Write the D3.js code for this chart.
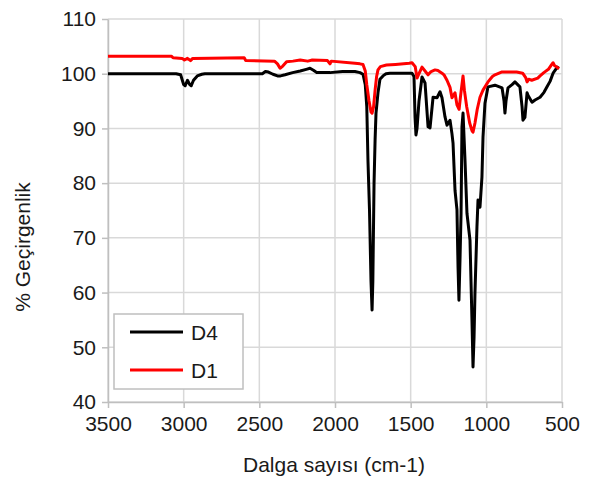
<!DOCTYPE html>
<html>
<head>
<meta charset="utf-8">
<script src="https://cdn.jsdelivr.net/npm/d3@7"></script>
<style>
  body { margin: 0; background: #fff; }
  text { font-family: "Liberation Sans", Arial, sans-serif; }
</style>
</head>
<body>
<div id="vis"></div>
<script>
// Chart size and plot box
const FRAME_WIDTH = 592;
const FRAME_HEIGHT = 482;
const MARGINS = {left: 108, right: 30, top: 19, bottom: 80};
const VIS_WIDTH = FRAME_WIDTH - MARGINS.left - MARGINS.right;
const VIS_HEIGHT = FRAME_HEIGHT - MARGINS.top - MARGINS.bottom;

// Tick values
const X_TICKS = [3500, 3000, 2500, 2000, 1500, 1000, 500];
const Y_TICKS = [40, 50, 60, 70, 80, 90, 100, 110];

// Series names
const SERIES = ["D4", "D1"];
const COLORS = ["#000000", "#ff0000"];

// D4 spectrum: wavenumber (cm-1) and % transmittance
const D4_WN = [3500, 3050, 3020, 3000, 2990, 2975, 2960, 2950, 2935, 2910, 2880, 2860,
  2480, 2460, 2440, 2410, 2380, 2360, 2330, 2280, 2230, 2190, 2165, 2140, 2120,
  2033, 1950, 1868, 1835, 1815, 1800, 1790, 1782, 1772, 1762, 1755, 1750, 1742, 1735,
  1729, 1716, 1703, 1683, 1663, 1637, 1491, 1478, 1471, 1465, 1458, 1445, 1425, 1405,
  1385, 1372, 1352, 1326, 1306, 1293, 1273, 1260, 1240, 1227, 1220, 1207, 1194, 1187,
  1181, 1174, 1167, 1161, 1154, 1141, 1128, 1108, 1095, 1088, 1081, 1075, 1062, 1055,
  1042, 1029, 1022, 1009, 989, 943, 896, 883, 877, 870, 857, 830, 811, 778, 764, 758,
  745, 731, 724, 698, 678, 645, 619, 599, 579, 559, 546, 533, 520];
const D4_T = [100.0, 100.0, 99.8, 98.0, 97.8, 98.8, 98.0, 97.8, 98.8, 99.6, 99.9, 100.0,
  100.0, 100.4, 100.3, 99.9, 99.6, 99.6, 99.8, 100.2, 100.5, 100.8, 101.0, 100.6, 100.2,
  100.2, 100.4, 100.4, 100.2, 99.9, 98.0, 94.0, 84.0, 75.0, 62.0, 56.8, 62.0, 80.0, 88.0,
  92.8, 96.5, 99.0, 99.6, 100.0, 100.1, 100.1, 99.5, 92.0, 88.8, 90.0, 95.0, 99.4, 98.3,
  90.3, 90.1, 95.7, 95.6, 96.7, 95.6, 92.1, 90.6, 91.5, 89.0, 87.3, 78.7, 75.1, 64.7,
  58.6, 66.0, 74.5, 90.3, 92.8, 84.2, 74.5, 69.6, 55.0, 46.4, 52.0, 60.0, 72.0, 76.9,
  75.6, 81.1, 88.4, 94.6, 97.6, 97.9, 97.4, 95.0, 92.8, 95.0, 97.4, 98.0, 98.5, 97.6, 94.0, 91.5,
  92.0, 96.5, 96.0, 94.8, 95.2, 95.7, 96.6, 97.6, 98.6, 100.1, 100.6, 101.2, 101.0];

// D1 spectrum
const D1_WN = [3500, 3080, 3070, 3010, 2995, 2975, 2955, 2940, 2600, 2590, 2400, 2380,
  2363, 2345, 2320, 2278, 2230, 2180, 2150, 2050, 2033, 2025, 1868, 1835, 1815, 1800,
  1790, 1775, 1762, 1755, 1745, 1735, 1725, 1716, 1700, 1660, 1600, 1510, 1491, 1470,
  1458, 1445, 1425, 1405, 1385, 1365, 1339, 1320, 1293, 1280, 1260, 1240, 1227, 1207,
  1194, 1180, 1170, 1154, 1145, 1130, 1110, 1095, 1088, 1075, 1060, 1042, 1022, 989,
  960, 943, 900, 800, 760, 740, 731, 720, 700, 660, 645, 620, 590, 570, 559, 550, 533, 520];
const D1_T = [103.2, 103.2, 102.9, 102.8, 102.5, 102.8, 102.4, 102.8, 102.9, 102.4, 102.3, 101.8,
  101.0, 101.4, 102.2, 102.3, 102.5, 102.3, 102.5, 102.4, 101.8, 102.3, 101.9, 101.8, 101.7, 100.5,
  98.0, 95.0, 93.0, 92.8, 94.0, 97.0, 99.5, 100.7, 101.3, 101.6, 101.7, 101.9, 102.0, 101.3,
  99.2, 100.0, 101.2, 100.5, 99.8, 100.4, 100.7, 100.6, 100.1, 99.8, 98.8, 97.5, 95.6, 96.5,
  94.3, 93.5, 96.0, 99.6, 97.0, 94.0, 91.0, 89.6, 89.3, 91.0, 93.5, 95.7, 97.0, 98.5,
  99.5, 99.8, 100.3, 100.3, 100.1, 99.3, 98.5, 99.0, 98.8, 99.2, 99.6, 100.2, 100.8, 101.6, 102.0, 101.5, 101.2, 100.9];

const SVG = d3.select("#vis")
  .append("svg")
  .attr("width", FRAME_WIDTH)
  .attr("height", FRAME_HEIGHT);

const X_SCALE = d3.scaleLinear()
  .domain([3500, 500])
  .range([MARGINS.left, MARGINS.left + VIS_WIDTH]);

const Y_SCALE = d3.scaleLinear()
  .domain([40, 110])
  .range([MARGINS.top + VIS_HEIGHT, MARGINS.top]);

// grid lines
SVG.append("g")
  .selectAll("line")
  .data(X_TICKS)
  .enter()
  .append("line")
  .attr("x1", d => X_SCALE(d))
  .attr("x2", d => X_SCALE(d))
  .attr("y1", MARGINS.top)
  .attr("y2", MARGINS.top + VIS_HEIGHT)
  .attr("stroke", "#d9d9d9")
  .attr("stroke-width", 1.5);

SVG.append("g")
  .selectAll("line")
  .data(Y_TICKS)
  .enter()
  .append("line")
  .attr("x1", MARGINS.left)
  .attr("x2", MARGINS.left + VIS_WIDTH)
  .attr("y1", d => Y_SCALE(d))
  .attr("y2", d => Y_SCALE(d))
  .attr("stroke", "#d9d9d9")
  .attr("stroke-width", 1.5);

// x axis
const xAxis = SVG.append("g")
  .attr("transform", "translate(0," + (MARGINS.top + VIS_HEIGHT) + ")")
  .call(d3.axisBottom(X_SCALE).tickValues(X_TICKS).tickFormat(d3.format("d"))
    .tickSize(6).tickSizeOuter(0).tickPadding(8));

// y axis
const yAxis = SVG.append("g")
  .attr("transform", "translate(" + MARGINS.left + ",0)")
  .call(d3.axisLeft(Y_SCALE).tickValues(Y_TICKS).tickFormat(d3.format("d"))
    .tickSize(6).tickSizeOuter(0).tickPadding(6));

[xAxis, yAxis].forEach(ax => {
  ax.select(".domain").attr("stroke", "#bfbfbf").attr("stroke-width", 1.5);
  ax.selectAll(".tick line").attr("stroke", "#bfbfbf").attr("stroke-width", 1.5);
  ax.selectAll(".tick text")
    .attr("fill", "#1a1a1a")
    .attr("font-size", "21px")
    .attr("font-family", "Liberation Sans, Arial, sans-serif");
});

// axis titles
SVG.append("text")
  .attr("x", 334)
  .attr("y", 472)
  .attr("text-anchor", "middle")
  .attr("font-size", "21px")
  .attr("fill", "#1a1a1a")
  .text("Dalga sayısı (cm-1)");

SVG.append("text")
  .attr("transform", "translate(30," + 247 + ") rotate(-90)")
  .attr("text-anchor", "middle")
  .attr("font-size", "21px")
  .attr("fill", "#1a1a1a")
  .text("% Geçirgenlik");

// the spectra
const line = d3.line()
  .x(d => X_SCALE(d[0]))
  .y(d => Y_SCALE(d[1]));

const seriesData = [
  d3.zip(D4_WN, D4_T),
  d3.zip(D1_WN, D1_T)
];

SVG.append("g")
  .selectAll("path")
  .data(seriesData)
  .enter()
  .append("path")
  .attr("d", d => line(d))
  .attr("fill", "none")
  .attr("stroke", (d, i) => COLORS[i])
  .attr("stroke-width", 3)
  .attr("stroke-linejoin", "round");

// legend
const LEGEND = SVG.append("g").attr("transform", "translate(114,314)");
LEGEND.append("rect")
  .attr("width", 129)
  .attr("height", 75)
  .attr("fill", "#fff")
  .attr("stroke", "#bfbfbf")
  .attr("stroke-width", 1.5);

SERIES.forEach((name, i) => {
  LEGEND.append("line")
    .attr("x1", 16)
    .attr("x2", 69)
    .attr("y1", 18 + i * 38)
    .attr("y2", 18 + i * 38)
    .attr("stroke", COLORS[i])
    .attr("stroke-width", 3);
  LEGEND.append("text")
    .attr("x", 77)
    .attr("y", 18 + i * 38 + 7.5)
    .attr("font-size", "21px")
    .attr("fill", "#1a1a1a")
    .text(name);
});
</script>
</body>
</html>
